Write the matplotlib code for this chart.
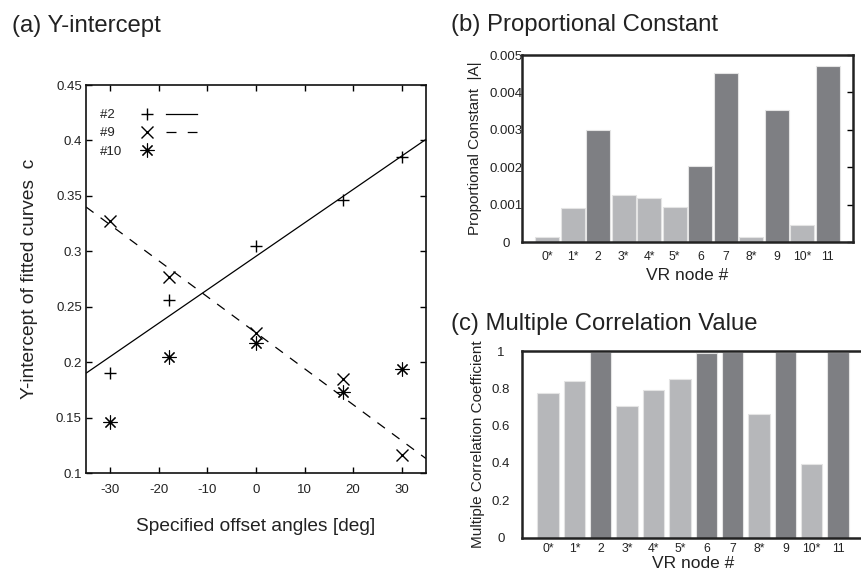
import matplotlib
matplotlib.use("Agg")
import matplotlib.pyplot as plt
from matplotlib.lines import Line2D
from matplotlib.legend_handler import HandlerTuple
from matplotlib import ticker

plt.rcParams['font.family'] = ['Liberation Sans', 'DejaVu Sans']
plt.rcParams['axes.unicode_minus'] = False
text_color = '#222222'

# (a) y-intercept data
offset_angles = [-30, -18, 0, 18, 30]
node2_c = [0.190, 0.256, 0.305, 0.346, 0.385]
node9_c = [0.327, 0.277, 0.226, 0.185, 0.116]
node10_c = [0.146, 0.205, 0.217, 0.173, 0.194]
# fitted lines (end points at the plot edges)
fit_x = [-35, 35]
fit2_c = [0.190, 0.401]
fit9_c = [0.340, 0.113]

# (b) / (c) data per VR node
vr_nodes = ["0*", "1*", "2", "3*", "4*", "5*", "6", "7", "8*", "9", "10*", "11"]
prop_const = [0.00014, 0.00091, 0.00299, 0.00126, 0.00119, 0.00095,
              0.00203, 0.00452, 0.00014, 0.00352, 0.00046, 0.00471]
mult_corr = [0.777, 0.841, 0.995, 0.705, 0.793, 0.852,
             0.987, 0.995, 0.662, 0.995, 0.395, 0.995]

light_gray = '#b6b7ba'
dark_gray = '#7e7f83'
bar_colors = [light_gray if '*' in n else dark_gray for n in vr_nodes]

W, H = 862, 576
fig = plt.figure(figsize=(W / 100, H / 100), dpi=100)


def px_axes(left, top, right, bottom):
    return fig.add_axes([left / W, 1 - bottom / H, (right - left) / W, (bottom - top) / H])


# ---------------- (a) ----------------
ax = px_axes(86, 85, 426, 473)
ax.plot(fit_x, fit2_c, color='black', linewidth=0.9)
ax.plot(fit_x, fit9_c, color='black', linewidth=0.9, dashes=(7.5, 7))
ax.plot(offset_angles, node2_c, linestyle='none', marker='+', markersize=9, mew=1.0, color='black')
ax.plot(offset_angles, node9_c, linestyle='none', marker='x', markersize=8, mew=1.0, color='black')
ax.plot(offset_angles, node10_c, linestyle='none', marker=(8, 2, 0), markersize=10, mew=0.8, color='black')
ax.set_xlim(-35, 35)
ax.set_ylim(0.1, 0.45)
ax.xaxis.set_major_locator(ticker.FixedLocator([-30, -20, -10, 0, 10, 20, 30]))
ax.yaxis.set_major_locator(ticker.MultipleLocator(0.05))
ax.yaxis.set_major_formatter(ticker.FormatStrFormatter('%g'))
ax.tick_params(direction='in', top=True, right=True, length=4, width=1, labelsize=9.5,
               labelcolor=text_color)
ax.tick_params(axis='x', pad=8)
ax.tick_params(axis='y', pad=3)
for s in ax.spines.values():
    s.set_linewidth(1.2)
    s.set_color('#111111')
ax.set_xlabel('Specified offset angles [deg]', fontsize=13.8, color=text_color, labelpad=16)
ax.set_ylabel('Y-intercept of fitted curves  c', fontsize=13.8, color=text_color, labelpad=13)

# legend: label, marker, line sample (figure space keeps the labels left aligned)
h2 = (Line2D([], [], linestyle='none', marker='+', markersize=9, mew=1.0, color='black'),
      Line2D([], [], color='black', linewidth=0.9))
h9 = (Line2D([], [], linestyle='none', marker='x', markersize=8, mew=1.0, color='black'),
      Line2D([], [], color='black', linewidth=0.9, dashes=(8, 9)))
h10 = (Line2D([], [], linestyle='none', marker=(8, 2, 0), markersize=10, mew=0.8, color='black'),
       Line2D([], [], linestyle='none'))
ax.legend([h2, h9, h10], ['#2\u2007', '#9\u2007', '#10'],
          handler_map={tuple: HandlerTuple(ndivide=None, pad=0.3)},
          markerfirst=False, frameon=False, loc='upper left', bbox_to_anchor=(0.04, 0.938),
          borderaxespad=0, borderpad=0, handlelength=5.0, handletextpad=0.7, labelspacing=0.45,
          prop={'size': 9.5}, labelcolor=text_color)

fig.text(12.5 / W, 1 - 32 / H, '(a) Y-intercept', fontsize=17.2, color=text_color, va='baseline')


# ---------------- (b) / (c) ----------------
def bar_panel(ax, values, width, ymax, ylabel, xlabelpad):
    x = list(range(len(vr_nodes)))
    ax.bar(x, values, width=width, color=bar_colors, edgecolor='#e4e4e4', linewidth=0.8)
    ax.set_xlim(-1, 12)
    ax.set_ylim(0, ymax)
    ax.set_xticks(x)
    ax.set_xticklabels(vr_nodes)
    ax.yaxis.set_major_formatter(ticker.FormatStrFormatter('%g'))
    ax.tick_params(axis='x', length=0, pad=6, labelsize=8.8, labelcolor=text_color)
    ax.tick_params(axis='y', left=False, pad=11.5, labelsize=9.5, labelcolor=text_color)
    for s in ax.spines.values():
        s.set_linewidth(1.8)
        s.set_color('#222222')
    ax.set_xlabel('VR node #', fontsize=12.5, color=text_color, labelpad=xlabelpad)
    ax.set_ylabel(ylabel, fontsize=11, color=text_color, labelpad=5)


axb = px_axes(521.7, 55, 853.3, 242.3)
bar_panel(axb, prop_const, 0.93, 0.005, 'Proportional Constant  |A|', 4)
axb.yaxis.set_major_locator(ticker.MultipleLocator(0.001))
axb.tick_params(axis='y', right=True, direction='in', length=4, width=1)
axb.tick_params(axis='y', left=False)
for lbl in axb.get_yticklabels():
    lbl.set_horizontalalignment('center')
fig.text(451.5 / W, 1 - 31 / H, '(b) Proportional Constant', fontsize=17.2, color=text_color, va='baseline')

axc = px_axes(521.7, 351, 864.5, 537.5)
bar_panel(axc, mult_corr, 0.81, 1.0, 'Multiple Correlation Coefficient', 1)
axc.yaxis.set_major_locator(ticker.MultipleLocator(0.2))
axc.tick_params(axis='x', pad=4)
for lbl in axc.get_yticklabels():
    lbl.set_horizontalalignment('center')
fig.text(451.5 / W, 1 - 330 / H, '(c) Multiple Correlation Value', fontsize=17.2, color=text_color, va='baseline')

fig.savefig('out.png', dpi=100)
